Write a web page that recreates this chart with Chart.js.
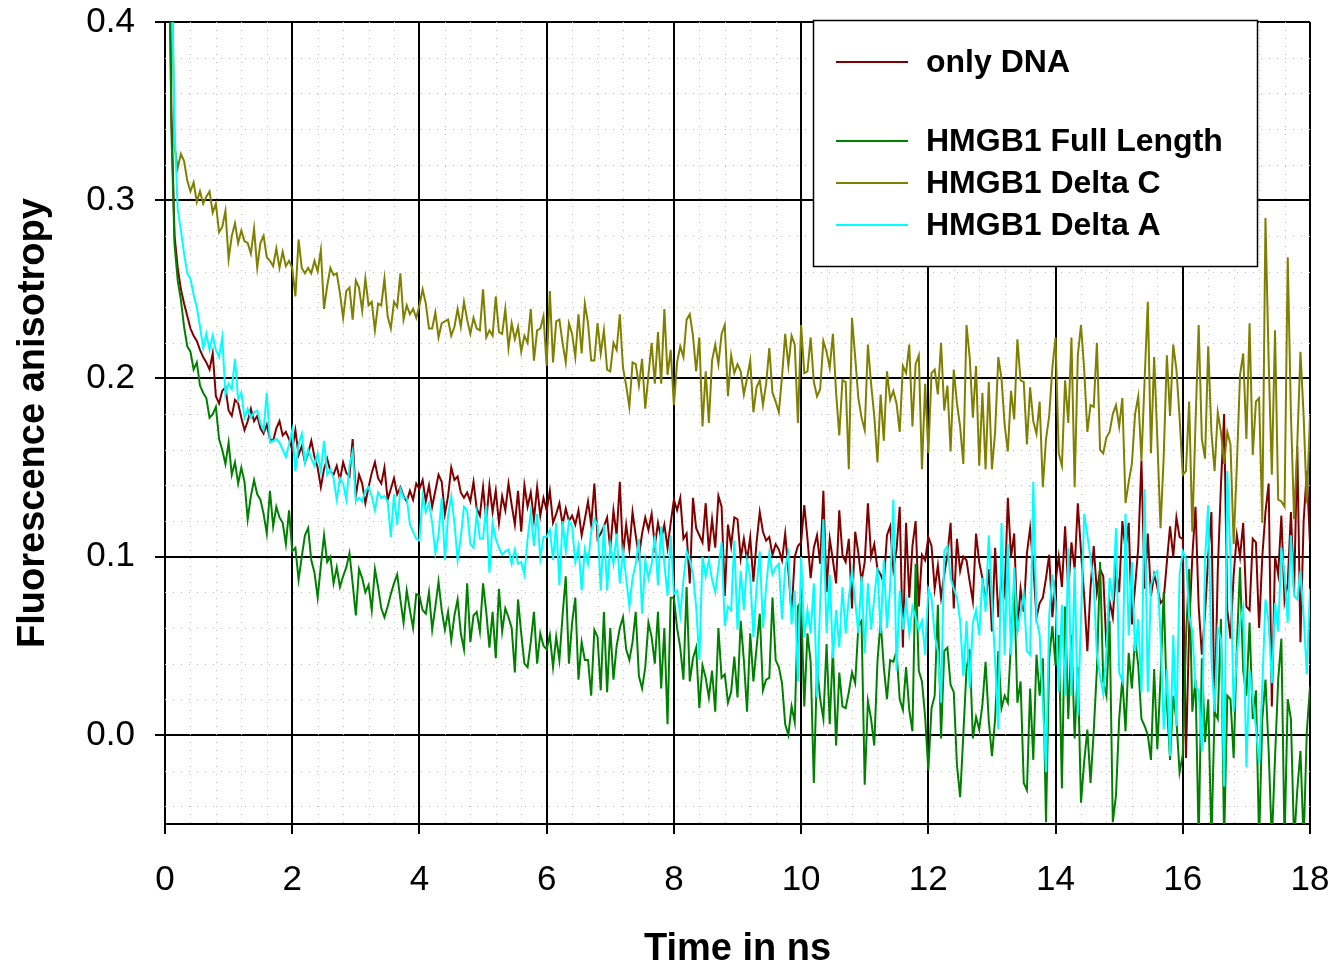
<!DOCTYPE html>
<html>
<head>
<meta charset="utf-8">
<title>Fluorescence anisotropy</title>
<script src="https://cdn.jsdelivr.net/npm/chart.js@4.4.1/dist/chart.umd.min.js"></script>
<style>
    html, body { margin: 0; padding: 0; background: #fff; }
    #wrap { width: 1336px; height: 968px; }
</style>
</head>
<body>
<div id="wrap"><canvas id="anisoChart" width="1336" height="968"></canvas></div>
<script>
// one channel every 0.05 ns, 0 .. 18 ns (one row = 1 ns)
const timeStep = 0.05;

const onlyDna = [
    .80,.50,.35,.28,.262,.250,.242,.235,.228,.224,.221,.216,.212,.209,.205,.214,.190,.186,.193,.195,
    .182,.179,.188,.186,.178,.171,.176,.183,.176,.179,.172,.169,.174,.166,.165,.172,.176,.168,.170,.166,
    .160,.171,.157,.162,.153,.158,.165,.156,.150,.139,.149,.155,.148,.146,.151,.143,.153,.147,.145,.166,
    .134,.146,.141,.130,.139,.147,.153,.144,.141,.150,.132,.138,.144,.135,.139,.134,.131,.137,.132,.141,
    .138,.143,.131,.140,.128,.137,.146,.142,.124,.134,.150,.143,.145,.136,.133,.136,.131,.142,.127,.123,
    .139,.120,.140,.125,.137,.119,.134,.126,.141,.129,.118,.137,.114,.140,.128,.136,.121,.139,.123,.133,
    .126,.137,.119,.124,.130,.118,.127,.120,.123,.118,.126,.112,.121,.131,.118,.141,.110,.113,.117,.122,
    .104,.126,.112,.142,.101,.118,.104,.125,.112,.100,.113,.122,.115,.124,.106,.119,.110,.118,.105,.119,
    .132,.126,.133,.110,.113,.085,.133,.116,.112,.108,.130,.103,.121,.105,.134,.128,.078,.118,.106,.122,
    .121,.099,.110,.098,.111,.086,.108,.125,.114,.109,.111,.101,.107,.104,.098,.113,.092,.068,.100,.106,
    .108,.129,.110,.088,.105,.112,.096,.137,.080,.110,.098,.085,.126,.101,.097,.110,.071,.114,.102,.086,
    .097,.130,.100,.107,.093,.090,.085,.112,.117,.093,.104,.128,.049,.119,.077,.106,.120,.072,.101,.098,
    .111,.106,.082,.095,.077,.090,.101,.119,.071,.110,.092,.100,.098,.086,.075,.113,.097,.088,.074,.093,
    .058,.105,.066,.088,.079,.133,.100,.113,.058,.082,.069,.102,.116,.095,.066,.074,.077,.088,.101,.066,
    .086,.100,.083,.117,.081,.108,.093,.130,.103,.078,.047,.083,.106,.080,.093,.089,.049,.075,.066,.093,
    .080,.120,.104,.119,.062,.083,.105,.154,.082,.113,.078,.090,.083,.074,.076,.097,.117,.100,.122,.111,
    .110,-.013,.060,.100,.128,.072,.045,.068,.100,.125,.010,.092,.140,.180,.070,.054,.090,.112,.100,.119,
    .072,.070,.110,.108,.060,.100,.125,.141,.016,.100,.090,.123,.075,.085,.125,.080,.162,.052,.120,.148,
    .107
];

const fullLength = [
    .80,.50,.34,.275,.255,.244,.229,.218,.215,.205,.209,.196,.192,.189,.178,.180,.184,.166,.160,.152,
    .164,.146,.153,.141,.150,.142,.121,.134,.143,.135,.132,.124,.113,.137,.117,.128,.122,.119,.107,.126,
    .103,.105,.087,.100,.112,.116,.098,.091,.077,.095,.112,.097,.100,.085,.094,.083,.089,.094,.102,.085,
    .067,.093,.088,.080,.084,.070,.093,.083,.071,.066,.072,.079,.085,.090,.076,.063,.081,.070,.060,.079,
    .078,.070,.068,.080,.059,.072,.086,.070,.059,.069,.053,.067,.076,.057,.048,.085,.052,.067,.069,.058,
    .085,.069,.049,.069,.043,.082,.058,.071,.066,.060,.035,.076,.057,.040,.038,.052,.069,.040,.057,.050,
    .048,.056,.038,.055,.042,.067,.089,.040,.063,.077,.031,.052,.042,.042,.022,.059,.055,.025,.069,.024,
    .060,.031,.050,.060,.066,.048,.042,.052,.069,.033,.026,.038,.063,.055,.040,.069,.026,.060,.006,.077,
    .077,.060,.049,.031,.083,.030,.043,.049,.015,.039,.032,.021,.036,.013,.060,.032,.034,.018,.024,.044,
    .021,.064,.042,.013,.057,.030,.049,.068,.025,.031,.032,.077,.042,.038,.029,.006,.000,.016,.007,.072,
    .075,.016,.057,.041,-.027,.038,.020,.009,.051,.006,.049,-.006,.035,.016,.015,.024,.035,.029,.061,.064,
    -.028,.019,.009,-.006,.041,.064,.038,.020,.042,.041,.047,.020,.014,.038,.014,.002,.096,.036,.030,.010,
    -.020,.015,.022,.073,-.002,.047,.049,.028,.024,-.017,-.035,.000,.037,.048,-.002,.010,.003,.017,.041,.008,
    -.012,.009,.047,.015,.022,.018,.052,.084,.018,.030,-.027,-.031,.026,-.014,.045,.022,.043,-.049,.043,.061,
    .039,.056,-.030,.072,.009,.056,-.002,.038,-.038,-.015,.003,-.027,.002,.037,.097,.030,.022,.064,-.049,-.034,
    .009,.032,.002,.046,.026,.054,.039,.009,.005,.000,-.014,.037,-.008,.032,.080,.018,-.014,.022,.008,-.021,
    -.011,.054,.093,.013,.031,-.060,.043,-.004,.020,-.060,.013,.009,.065,-.060,.022,.020,-.013,.050,.094,.036,
    .022,.063,.009,.025,-.060,.009,.031,-.009,-.060,-.013,.031,.054,-.060,.020,.009,-.060,-.031,-.009,-.060,.002,
    .027
];

const deltaC = [
    .90,.60,.45,.33,.318,.326,.322,.311,.305,.310,.299,.305,.298,.302,.305,.293,.298,.282,.285,.294,
    .267,.280,.287,.276,.283,.277,.276,.270,.284,.262,.276,.280,.268,.266,.263,.273,.262,.271,.263,.266,
    .262,.246,.278,.262,.259,.262,.259,.266,.260,.272,.239,.252,.262,.258,.259,.248,.234,.249,.251,.233,
    .255,.251,.238,.256,.241,.243,.227,.242,.241,.256,.235,.228,.243,.240,.259,.233,.241,.236,.239,.234,
    .241,.250,.242,.228,.228,.237,.223,.231,.232,.233,.224,.229,.239,.229,.243,.233,.225,.234,.228,.227,
    .250,.223,.227,.224,.246,.226,.225,.239,.217,.231,.222,.229,.215,.224,.220,.239,.210,.227,.228,.235,
    .207,.249,.209,.232,.233,.220,.209,.231,.225,.212,.236,.214,.242,.231,.210,.210,.231,.214,.227,.205,
    .204,.220,.216,.236,.206,.196,.184,.209,.208,.196,.211,.183,.202,.220,.197,.226,.197,.239,.202,.216,
    .185,.209,.218,.212,.233,.236,.224,.204,.223,.173,.204,.175,.210,.219,.208,.225,.230,.190,.213,.203,
    .208,.204,.191,.200,.210,.181,.195,.199,.185,.197,.217,.192,.187,.181,.201,.225,.207,.224,.219,.175,
    .230,.203,.204,.223,.198,.190,.194,.221,.215,.206,.225,.192,.168,.199,.198,.149,.234,.212,.189,.178,
    .171,.219,.197,.179,.153,.191,.165,.204,.188,.193,.186,.170,.207,.203,.219,.173,.208,.213,.149,.197,
    .158,.203,.205,.191,.220,.182,.196,.159,.205,.186,.173,.152,.230,.212,.178,.207,.151,.192,.149,.198,
    .149,.170,.212,.200,.174,.159,.193,.177,.222,.199,.198,.163,.195,.176,.169,.187,.139,.166,.179,.206,
    .223,.158,.151,.199,.175,.223,.139,.213,.230,.205,.170,.185,.184,.220,.160,.158,.167,.170,.180,.185,
    .173,.189,.130,.142,.152,.180,.190,.154,.199,.243,.158,.212,.166,.116,.156,.213,.179,.219,.205,.178,
    .146,.148,.187,.114,.175,.230,.166,.155,.218,.170,.148,.181,.170,.152,.170,.163,.107,.151,.202,.214,
    .166,.231,.157,.187,.189,.119,.290,.210,.146,.227,.132,.131,.128,.268,.180,.121,.163,.215,.179,.130,
    .179
];

const deltaA = [
    .70,.55,.44,.34,.295,.283,.270,.259,.256,.247,.240,.229,.217,.225,.216,.224,.216,.212,.223,.191,
    .197,.194,.211,.188,.192,.178,.183,.178,.181,.182,.175,.171,.192,.164,.165,.166,.164,.160,.156,.163,
    .171,.148,.163,.169,.153,.160,.155,.151,.158,.148,.165,.146,.149,.144,.132,.144,.141,.132,.151,.159,
    .131,.133,.131,.137,.139,.134,.126,.136,.133,.134,.131,.111,.135,.118,.138,.133,.133,.118,.114,.110,
    .109,.134,.125,.130,.119,.102,.112,.133,.098,.123,.134,.119,.098,.111,.128,.126,.107,.105,.124,.110,
    .110,.129,.091,.119,.110,.105,.101,.103,.104,.096,.104,.096,.097,.090,.110,.125,.106,.124,.099,.111,
    .111,.115,.098,.119,.084,.120,.103,.120,.117,.097,.106,.081,.104,.096,.114,.121,.118,.081,.118,.081,
    .107,.096,.113,.085,.103,.088,.072,.088,.096,.110,.068,.098,.088,.096,.112,.084,.117,.096,.078,.112,
    .079,.081,.067,.087,.103,.098,.090,.072,.042,.100,.089,.098,.087,.080,.094,.108,.061,.072,.070,.109,
    .059,.092,.070,.098,.089,.055,.083,.103,.060,.083,.102,.090,.094,.096,.065,.094,.102,.062,.081,.030,
    .100,.055,.070,.057,.085,.021,.075,.121,.057,.090,.043,.070,.049,.083,.057,.077,.092,.075,.057,.089,
    .046,.085,.059,.077,.094,.057,.098,.060,.083,.132,.036,.081,.059,.075,.057,.072,.066,.059,.064,.045,
    .082,.077,.056,.047,.018,.103,.106,.088,.082,.077,.064,.033,.064,.026,.063,.070,.056,.088,.069,.112,
    .075,.041,.003,.119,.045,.107,.045,.094,.058,.069,.079,.047,.045,.142,.065,.056,.018,-.021,.067,.090,
    .075,.024,.073,.022,.105,.022,.094,.011,.065,.124,.112,.099,.084,.045,.033,.023,.047,.088,.075,.116,
    .035,.030,.124,.056,.097,.047,.065,.024,.138,.024,.084,.090,.092,.056,.003,.037,-.012,.056,.005,.090,
    .103,.099,.067,.058,.027,.025,-.009,.099,.129,.043,.013,.060,.054,-.029,.148,.099,.013,.045,.063,.072,
    -.018,.036,.020,.004,-.016,.027,.076,.063,.029,.074,.058,.105,.090,.063,.112,.078,.076,.092,.067,.034,
    .082
];

const seriesNames = ['only DNA', 'HMGB1 Full Length', 'HMGB1 Delta C', 'HMGB1 Delta A'];
const seriesColors = ['#800000', '#008000', '#808000', '#00ffff'];
const xTicks = [0, 2, 4, 6, 8, 10, 12, 14, 16, 18];
const yTicks = [0.0, 0.1, 0.2, 0.3, 0.4];

const fontFamily = '"Liberation Sans", Arial, Helvetica, sans-serif';

function toPoints(values) {
    return values.map((v, i) => ({ x: +(i * timeStep).toFixed(2), y: v }));
}

// dotted minor grid, every 0.4 ns and every 0.02
const minorGrid = {
    id: 'minorGrid',
    beforeDatasetsDraw(chart) {
        const { ctx, chartArea: a, scales: { x, y } } = chart;
        ctx.save();
        ctx.strokeStyle = '#b9b9b9';
        ctx.lineWidth = 1;
        ctx.setLineDash([1, 7]);
        for (let k = 1; k < 45; k++) {
            if (k % 5 === 0) continue;
            const px = Math.round(x.getPixelForValue(k * 0.4)) + 0.5;
            ctx.beginPath();
            ctx.moveTo(px, a.top);
            ctx.lineTo(px, a.bottom);
            ctx.stroke();
        }
        for (let k = -2; k < 20; k++) {
            if (k % 5 === 0) continue;
            const py = Math.round(y.getPixelForValue(k * 0.02)) + 0.5;
            ctx.beginPath();
            ctx.moveTo(a.left, py);
            ctx.lineTo(a.right, py);
            ctx.stroke();
        }
        ctx.restore();
    }
};

// legend box in the upper right, with an empty row after the first entry
const boxLegend = {
    id: 'boxLegend',
    afterDatasetsDraw(chart) {
        const ctx = chart.ctx;
        const rowY = [62, 141, 183, 225];
        ctx.save();
        ctx.fillStyle = '#fff';
        ctx.fillRect(813, 20, 444, 246);
        ctx.strokeStyle = '#000';
        ctx.lineWidth = 1.5;
        ctx.strokeRect(813.5, 20.5, 444, 246);
        ctx.font = 'bold 32px ' + fontFamily;
        ctx.textBaseline = 'middle';
        chart.data.datasets.forEach((ds, i) => {
            const yy = rowY[i];
            ctx.strokeStyle = ds.borderColor;
            ctx.lineWidth = 2;
            ctx.beginPath();
            ctx.moveTo(836, yy);
            ctx.lineTo(908, yy);
            ctx.stroke();
            ctx.fillStyle = '#000';
            ctx.fillText(ds.label, 926, yy + 1);
        });
        ctx.restore();
    }
};

const allSeries = [onlyDna, fullLength, deltaC, deltaA];

const ctxAniso = document.getElementById('anisoChart').getContext('2d');
new Chart(ctxAniso, {
    type: 'line',
    data: {
        datasets: allSeries.map((values, i) => ({
            label: seriesNames[i],
            data: toPoints(values),
            borderColor: seriesColors[i],
            backgroundColor: seriesColors[i],
            borderWidth: 2,
            pointRadius: 0,
            tension: 0,
            fill: false,
            order: allSeries.length - i
        }))
    },
    options: {
        responsive: false,
        animation: false,
        devicePixelRatio: 1,
        layout: { padding: { left: 0, top: 22, right: 26, bottom: 0 } },
        plugins: {
            legend: { display: false },
            tooltip: { enabled: false }
        },
        scales: {
            x: {
                type: 'linear',
                min: 0,
                max: 18,
                afterBuildTicks: s => { s.ticks = xTicks.map(v => ({ value: v })); },
                afterFit: s => {
                    s.height = 144;
                    s.paddingLeft = 0;
                    s.paddingRight = 0;
                },
                ticks: {
                    color: '#000',
                    padding: 25,
                    maxRotation: 0,
                    font: { size: 35, family: fontFamily },
                    callback: v => String(v)
                },
                grid: { color: '#000', lineWidth: 2, tickLength: 10, tickColor: '#000', tickWidth: 2 },
                border: { color: '#000', width: 2 },
                title: {
                    display: true,
                    text: 'Time in ns',
                    color: '#000',
                    font: { size: 38, weight: 'bold', family: fontFamily },
                    padding: { top: 0, bottom: -4 }
                }
            },
            y: {
                type: 'linear',
                min: -0.05,
                max: 0.4,
                afterBuildTicks: s => { s.ticks = yTicks.map(v => ({ value: v })); },
                afterFit: s => {
                    s.width = 165;
                    s.paddingTop = 0;
                    s.paddingBottom = 0;
                },
                ticks: {
                    color: '#000',
                    padding: 20,
                    font: { size: 35, family: fontFamily },
                    callback: v => v.toFixed(1)
                },
                grid: { color: '#000', lineWidth: 2, tickLength: 10, tickColor: '#000', tickWidth: 2 },
                border: { color: '#000', width: 2 },
                title: {
                    display: true,
                    text: 'Fluorescence anisotropy',
                    color: '#000',
                    font: { size: 38, weight: 'bold', family: fontFamily },
                    padding: { top: 11, bottom: 0 }
                }
            }
        }
    },
    plugins: [minorGrid, boxLegend]
});
</script>
</body>
</html>
